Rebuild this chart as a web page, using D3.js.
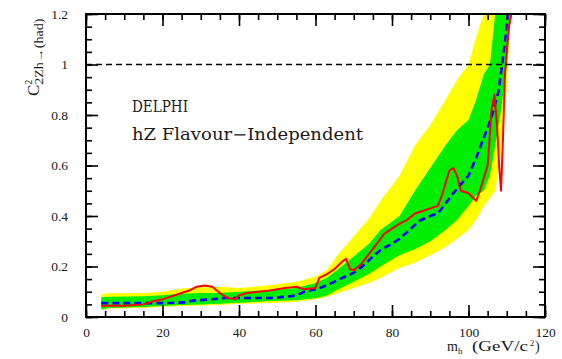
<!DOCTYPE html>
<html>
<head>
<meta charset="utf-8">
<script src="https://cdn.jsdelivr.net/npm/d3@7"></script>
<style>
  body { margin: 0; background: #fff; }
  text { font-family: "Liberation Serif", "DejaVu Serif", serif; fill: #1a1a1a; }
</style>
</head>
<body>
<div id="chart"></div>
<script>
// band: mass points with 2 sigma / 1 sigma limits
var bandMass   = [4, 6, 15, 20, 25, 30, 35, 40, 45, 50, 55, 60, 63, 66, 70, 74, 77, 82, 86, 90, 94, 97, 100, 102, 104, 105.6, 107, 108.5, 110, 111];
var yellowLow  = [0.028, 0.034, 0.036, 0.040, 0.044, 0.046, 0.048, 0.052, 0.054, 0.056, 0.060, 0.070, 0.080, 0.095, 0.115, 0.135, 0.155, 0.194, 0.215, 0.245, 0.277, 0.310, 0.345, 0.385, 0.440, 0.470, 0.500, 0.650, 0.900, 1.200];
var greenLow   = [0.030, 0.036, 0.040, 0.044, 0.048, 0.050, 0.052, 0.056, 0.060, 0.064, 0.066, 0.074, 0.085, 0.110, 0.140, 0.170, 0.200, 0.245, 0.268, 0.300, 0.345, 0.384, 0.440, 0.480, 0.500, 0.560, 0.680, 0.820, 1.000, 1.200];
var greenHigh  = [0.078, 0.080, 0.082, 0.086, 0.092, 0.095, 0.095, 0.100, 0.104, 0.108, 0.115, 0.135, 0.155, 0.190, 0.240, 0.290, 0.345, 0.400, 0.500, 0.590, 0.680, 0.740, 0.780, 0.860, 0.960, 1.000, 1.200, 1.200, 1.200, 1.200];
var yellowHigh = [0.090, 0.094, 0.095, 0.100, 0.113, 0.118, 0.120, 0.115, 0.122, 0.130, 0.140, 0.160, 0.186, 0.250, 0.320, 0.390, 0.460, 0.560, 0.680, 0.760, 0.860, 0.940, 1.000, 1.110, 1.200, 1.200, 1.200, 1.200, 1.200, 1.200];

// expected (blue dashed)
var expMass = [4, 20, 26, 28, 33, 36, 48, 52, 55, 57, 60, 62, 65, 67, 69, 71, 73, 75, 77, 80, 82, 85, 87, 90, 92, 94, 96, 98, 100, 102, 104, 106, 107.8, 108.8, 109.5, 110.3];
var expVal  = [0.055, 0.055, 0.058, 0.065, 0.070, 0.075, 0.075, 0.080, 0.085, 0.100, 0.110, 0.120, 0.140, 0.155, 0.168, 0.185, 0.210, 0.240, 0.265, 0.290, 0.310, 0.350, 0.380, 0.400, 0.410, 0.450, 0.490, 0.525, 0.560, 0.630, 0.710, 0.790, 0.890, 1.000, 1.085, 1.200];

// observed (red)
var obsMass = [4, 10, 15, 17, 20, 23, 25, 27, 29, 31, 33, 35, 37, 39, 40, 42, 45, 48, 52, 55, 57, 60, 61, 63, 65, 67, 68, 69, 70, 72, 74, 76, 78, 80, 82, 84, 86, 88, 90, 92, 93, 94, 95, 96, 97, 98, 100, 102, 103, 104, 105, 105.5, 106, 106.8, 107.5, 108, 108.5, 109, 109.5, 110, 110.6, 111.2];
var obsVal  = [0.045, 0.045, 0.050, 0.060, 0.070, 0.085, 0.095, 0.105, 0.120, 0.125, 0.120, 0.095, 0.075, 0.070, 0.085, 0.095, 0.100, 0.105, 0.115, 0.120, 0.110, 0.115, 0.155, 0.170, 0.190, 0.220, 0.230, 0.190, 0.185, 0.210, 0.250, 0.290, 0.330, 0.350, 0.370, 0.385, 0.410, 0.420, 0.430, 0.440, 0.480, 0.530, 0.580, 0.590, 0.560, 0.500, 0.490, 0.460, 0.500, 0.550, 0.600, 0.700, 0.820, 0.880, 0.750, 0.600, 0.500, 0.700, 0.950, 1.050, 1.150, 1.200];

var xTicks = [0, 20, 40, 60, 80, 100, 120];
var yTicks = [0, 0.2, 0.4, 0.6, 0.8, 1, 1.2];
var yTickLabels = ["0", "0.2", "0.4", "0.6", "0.8", "1", "1.2"];
var smReference = 1;

var W = 562, H = 359;
var margin = {left: 86, right: 545, top: 14, bottom: 317};

var x = d3.scaleLinear().domain([0, 120]).range([margin.left, margin.right]);
var y = d3.scaleLinear().domain([0, 1.2]).range([margin.bottom, margin.top]);

var svg = d3.select("#chart").append("svg")
    .attr("width", W)
    .attr("height", H);

svg.append("clipPath").attr("id", "plotclip")
  .append("rect")
    .attr("x", margin.left).attr("y", margin.top)
    .attr("width", margin.right - margin.left).attr("height", margin.bottom - margin.top);

var plot = svg.append("g").attr("clip-path", "url(#plotclip)");

var band = bandMass.map(function(m, i) {
  return {m: m, y2lo: yellowLow[i], y1lo: greenLow[i], y1hi: greenHigh[i], y2hi: yellowHigh[i]};
});

var yellowArea = d3.area()
    .x(function(d) { return x(d.m); })
    .y0(function(d) { return y(d.y2lo); })
    .y1(function(d) { return y(d.y2hi); });
var greenArea = d3.area()
    .x(function(d) { return x(d.m); })
    .y0(function(d) { return y(d.y1lo); })
    .y1(function(d) { return y(d.y1hi); });

plot.append("path").datum(band)
    .attr("fill", "#ffff00")
    .attr("d", yellowArea);
plot.append("path").datum(band)
    .attr("fill", "#00ee00")
    .attr("d", greenArea);

var line = d3.line()
    .x(function(d) { return x(d[0]); })
    .y(function(d) { return y(d[1]); });

plot.append("path")
    .datum(expMass.map(function(m, i) { return [m, expVal[i]]; }))
    .attr("fill", "none")
    .attr("stroke", "#0000ff")
    .attr("stroke-width", 2.6)
    .attr("stroke-dasharray", "7,4")
    .attr("d", line);

plot.append("path")
    .datum(obsMass.map(function(m, i) { return [m, obsVal[i]]; }))
    .attr("fill", "none")
    .attr("stroke", "#ff0000")
    .attr("stroke-width", 2)
    .attr("stroke-linejoin", "round")
    .attr("d", line);

// reference line at C^2 = 1
svg.append("line")
    .attr("x1", x(0)).attr("x2", x(120))
    .attr("y1", y(smReference)).attr("y2", y(smReference))
    .attr("stroke", "#000")
    .attr("stroke-width", 1.5)
    .attr("stroke-dasharray", "6,4");

// axes, ticks pointing inward
function minorTicks(step, max) {
  return d3.range(0, max + step / 2, step);
}

svg.append("g")
    .attr("transform", "translate(0," + margin.bottom + ")")
    .call(d3.axisBottom(x).tickValues(minorTicks(5, 120)).tickSize(-6).tickFormat(""));
svg.append("g")
    .attr("transform", "translate(0," + margin.bottom + ")")
    .call(d3.axisBottom(x).tickValues(xTicks).tickSize(-12).tickPadding(10));
svg.append("g")
    .attr("transform", "translate(0," + margin.top + ")")
    .call(d3.axisTop(x).tickValues(minorTicks(5, 120)).tickSize(-6).tickFormat(""));
svg.append("g")
    .attr("transform", "translate(0," + margin.top + ")")
    .call(d3.axisTop(x).tickValues(xTicks).tickSize(-12).tickFormat(""));

svg.append("g")
    .attr("transform", "translate(" + margin.left + ",0)")
    .call(d3.axisLeft(y).tickValues(minorTicks(0.05, 1.2)).tickSize(-6).tickFormat(""));
svg.append("g")
    .attr("transform", "translate(" + margin.left + ",0)")
    .call(d3.axisLeft(y).tickValues(yTicks).tickSize(-12).tickPadding(18)
      .tickFormat(function(d, i) { return yTickLabels[i]; }));
svg.append("g")
    .attr("transform", "translate(" + margin.right + ",0)")
    .call(d3.axisRight(y).tickValues(minorTicks(0.05, 1.2)).tickSize(-6).tickFormat(""));
svg.append("g")
    .attr("transform", "translate(" + margin.right + ",0)")
    .call(d3.axisRight(y).tickValues(yTicks).tickSize(-12).tickFormat(""));

svg.selectAll(".domain").remove();
svg.selectAll(".tick line").attr("stroke", "#000").attr("stroke-width", 1.6);
svg.selectAll(".tick text")
    .style("font-family", "'Liberation Serif', serif")
    .style("font-size", "13.5px")
    .attr("fill", "#111");

svg.append("rect")
    .attr("x", margin.left).attr("y", margin.top)
    .attr("width", margin.right - margin.left).attr("height", margin.bottom - margin.top)
    .attr("fill", "none")
    .attr("stroke", "#000")
    .attr("stroke-width", 2);

// labels inside plot
svg.append("text")
    .attr("x", 132).attr("y", 112)
    .attr("textLength", 56)
    .attr("lengthAdjust", "spacingAndGlyphs")
    .style("font-family", "'DejaVu Serif', serif")
    .style("font-size", "16px")
    .text("DELPHI");
svg.append("text")
    .attr("x", 132).attr("y", 140)
    .attr("textLength", 231)
    .attr("lengthAdjust", "spacingAndGlyphs")
    .style("font-family", "'DejaVu Serif', serif")
    .style("font-size", "16px")
    .text("hZ Flavour\u2212Independent");

// x axis title
var xt = svg.append("text")
    .attr("x", 447).attr("y", 351)
    .style("font-size", "14px");
xt.append("tspan").text("m");
xt.append("tspan").attr("dy", 3).style("font-size", "9px").text("h");
xt.append("tspan").attr("x", 472).attr("y", 351)
    .attr("textLength", 56).attr("lengthAdjust", "spacingAndGlyphs")
    .text("(GeV/c");
xt.append("tspan").attr("x", 530).attr("y", 346).style("font-size", "8.5px").text("2");
xt.append("tspan").attr("x", 535).attr("y", 351).text(")");

// y axis title
var yt = svg.append("text")
    .attr("transform", "translate(39,96) rotate(-90)")
    .style("font-size", "17px");
yt.append("tspan").text("C");
yt.append("tspan").attr("dy", -7).style("font-size", "10px").text("2");
yt.append("tspan").attr("dy", 11).attr("dx", -5).style("font-size", "11.5px")
    .attr("textLength", 66).attr("lengthAdjust", "spacingAndGlyphs")
    .text("2Zh\u2192(had)");
</script>
</body>
</html>
